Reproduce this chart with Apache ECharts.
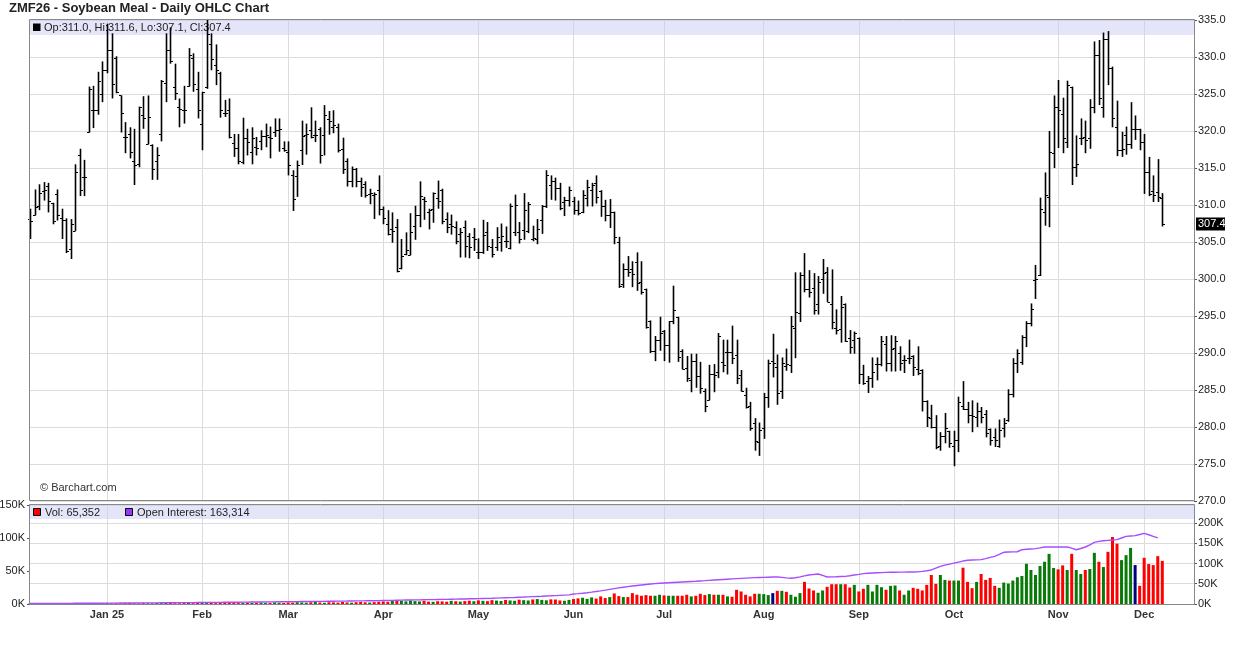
<!DOCTYPE html>
<html><head><meta charset="utf-8">
<script src="https://cdn.jsdelivr.net/npm/echarts/dist/echarts.min.js"></script>
<style>html,body{margin:0;padding:0;background:#fff}#c{width:1236px;height:645px}</style>
</head><body><div id="c"></div>
<script>
// ---------- DATA ----------
const dates = [
'2024-12-06','2024-12-09','2024-12-10','2024-12-11','2024-12-12','2024-12-13','2024-12-16','2024-12-17','2024-12-18','2024-12-19','2024-12-20','2024-12-23','2024-12-24','2024-12-26','2024-12-27','2024-12-30','2024-12-31',
'2025-01-02','2025-01-03','2025-01-06','2025-01-07','2025-01-08','2025-01-09','2025-01-10','2025-01-13','2025-01-14','2025-01-15','2025-01-16','2025-01-17','2025-01-21','2025-01-22','2025-01-23','2025-01-24','2025-01-27','2025-01-28','2025-01-29','2025-01-30','2025-01-31',
'2025-02-03','2025-02-04','2025-02-05','2025-02-06','2025-02-07','2025-02-10','2025-02-11','2025-02-12','2025-02-13','2025-02-14','2025-02-18','2025-02-19','2025-02-20','2025-02-21','2025-02-24','2025-02-25','2025-02-26','2025-02-27','2025-02-28',
'2025-03-03','2025-03-04','2025-03-05','2025-03-06','2025-03-07','2025-03-10','2025-03-11','2025-03-12','2025-03-13','2025-03-14','2025-03-17','2025-03-18','2025-03-19','2025-03-20','2025-03-21','2025-03-24','2025-03-25','2025-03-26','2025-03-27','2025-03-28','2025-03-31',
'2025-04-01','2025-04-02','2025-04-03','2025-04-04','2025-04-07','2025-04-08','2025-04-09','2025-04-10','2025-04-11','2025-04-14','2025-04-15','2025-04-16','2025-04-17','2025-04-21','2025-04-22','2025-04-23','2025-04-24','2025-04-25','2025-04-28','2025-04-29','2025-04-30',
'2025-05-01','2025-05-02','2025-05-05','2025-05-06','2025-05-07','2025-05-08','2025-05-09','2025-05-12','2025-05-13','2025-05-14','2025-05-15','2025-05-16','2025-05-19','2025-05-20','2025-05-21','2025-05-22','2025-05-23','2025-05-27','2025-05-28','2025-05-29','2025-05-30',
'2025-06-02','2025-06-03','2025-06-04','2025-06-05','2025-06-06','2025-06-09','2025-06-10','2025-06-11','2025-06-12','2025-06-13','2025-06-16','2025-06-17','2025-06-18','2025-06-20','2025-06-23','2025-06-24','2025-06-25','2025-06-26','2025-06-27','2025-06-30',
'2025-07-01','2025-07-02','2025-07-03','2025-07-07','2025-07-08','2025-07-09','2025-07-10','2025-07-11','2025-07-14','2025-07-15','2025-07-16','2025-07-17','2025-07-18','2025-07-21','2025-07-22','2025-07-23','2025-07-24','2025-07-25','2025-07-28','2025-07-29','2025-07-30','2025-07-31',
'2025-08-01','2025-08-04','2025-08-05','2025-08-06','2025-08-07','2025-08-08','2025-08-11','2025-08-12','2025-08-13','2025-08-14','2025-08-15','2025-08-18','2025-08-19','2025-08-20','2025-08-21','2025-08-22','2025-08-25','2025-08-26','2025-08-27','2025-08-28','2025-08-29',
'2025-09-02','2025-09-03','2025-09-04','2025-09-05','2025-09-08','2025-09-09','2025-09-10','2025-09-11','2025-09-12','2025-09-15','2025-09-16','2025-09-17','2025-09-18','2025-09-19','2025-09-22','2025-09-23','2025-09-24','2025-09-25','2025-09-26','2025-09-29','2025-09-30',
'2025-10-01','2025-10-02','2025-10-03','2025-10-06','2025-10-07','2025-10-08','2025-10-09','2025-10-10','2025-10-13','2025-10-14','2025-10-15','2025-10-16','2025-10-17','2025-10-20','2025-10-21','2025-10-22','2025-10-23','2025-10-24','2025-10-27','2025-10-28','2025-10-29','2025-10-30','2025-10-31',
'2025-11-03','2025-11-04','2025-11-05','2025-11-06','2025-11-07','2025-11-10','2025-11-11','2025-11-12','2025-11-13','2025-11-14','2025-11-17','2025-11-18','2025-11-19','2025-11-20','2025-11-21','2025-11-24','2025-11-25','2025-11-26','2025-11-28',
'2025-12-01','2025-12-02','2025-12-03','2025-12-04','2025-12-05'
];
const emptySlotsRight = 7;

const open = [
308.1,308.6,309.9,311.9,312.6,310.3,311.5,308.2,308.0,304.1,
306.5,316.8,313.8,319.8,322.8,322.8,325.0,328.3,331.0,329.9,
324.8,319.2,319.6,316.0,315.6,322.2,318.3,318.1,316.0,319.6,
326.5,331.0,326.0,323.2,322.9,326.1,329.9,325.7,320.9,326.0,
331.8,328.9,327.8,322.4,322.8,318.4,317.7,315.8,319.0,317.2,
317.8,318.7,319.3,319.2,319.8,320.2,317.7,317.2,314.1,313.9,
317.5,319.4,320.2,319.4,320.3,319.5,321.6,320.6,320.6,317.6,
315.9,313.2,314.9,313.3,312.9,311.5,311.4,312.0,309.5,307.5,
306.7,307.0,301.5,303.4,303.3,307.1,308.7,310.8,309.0,309.4,
311.0,312.0,308.1,307.4,307.0,306.1,307.0,305.8,305.7,303.6,
303.6,306.4,304.3,304.3,305.0,305.1,304.2,306.3,306.3,306.6,
306.5,305.4,305.4,308.0,309.8,312.7,313.2,312.3,310.4,310.7,
310.5,309.3,309.0,311.0,312.0,313.0,311.9,309.9,308.6,309.0,
305.0,299.3,301.3,301.3,302.3,299.6,298.7,294.3,290.3,291.8,
293.0,291.1,294.3,294.8,290.3,288.0,286.3,288.9,286.9,284.8,
283.6,287.2,287.5,288.8,290.1,290.1,289.7,287.0,284.3,282.8,
280.5,278.0,279.8,284.0,288.9,288.1,284.9,288.2,288.4,293.4,
295.4,300.5,298.6,298.8,296.6,300.0,300.9,296.6,293.4,293.2,
296.6,292.0,291.7,292.0,287.2,286.2,286.6,288.5,288.5,291.2,
288.7,290.7,290.0,289.0,289.3,289.6,287.9,287.7,283.5,281.2,
280.0,277.4,278.8,279.5,277.5,278.2,282.9,282.5,281.6,281.3,
282.1,281.8,279.7,278.6,277.5,279.9,281.0,284.5,288.6,288.8,
292.2,294.1,299.8,300.5,309.0,311.1,317.0,323.2,322.3,318.5,
326.0,315.1,319.0,319.2,319.0,323.3,330.3,323.3,332.5,328.5,
320.5,317.5,319.4,318.2,320.3,320.3,318.5,314.4,311.9,311.7,
311.0
];
const high = [
309.5,312.1,312.8,313.1,313.0,310.3,312.1,309.5,308.2,308.1,
315.5,317.6,316.1,326.0,326.1,328.0,329.4,334.5,333.2,330.1,
324.8,321.2,320.5,320.3,323.3,324.7,324.8,318.2,317.8,326.9,
333.2,334.0,329.1,324.4,326.1,331.2,330.5,328.0,325.3,335.0,
333.2,331.7,328.0,324.2,324.4,319.6,319.6,321.8,320.3,320.5,
319.2,320.1,321.0,320.6,321.7,321.7,318.6,318.6,314.7,316.0,
321.4,321.0,323.2,321.4,320.5,323.5,322.7,322.8,321.0,319.1,
316.3,315.2,315.0,313.7,313.2,312.2,311.7,314.0,309.8,309.3,
309.0,308.1,305.4,306.3,308.9,309.9,313.2,311.1,309.5,311.7,
313.3,312.2,309.0,308.7,307.8,306.9,307.9,306.2,306.9,305.5,
308.0,307.7,305.4,307.0,307.5,307.1,310.2,311.4,307.7,311.6,
310.4,307.2,308.1,310.0,314.7,314.0,313.7,313.0,311.1,312.5,
311.1,310.6,312.0,313.4,313.0,314.0,312.0,310.7,310.8,309.1,
305.7,302.1,303.1,302.4,303.6,302.4,298.7,294.4,292.3,294.9,
293.1,294.3,299.1,294.9,290.5,289.6,289.9,289.9,288.8,285.2,
288.4,288.5,292.7,291.8,291.8,293.7,291.8,287.7,285.3,283.4,
281.2,280.6,284.6,289.1,292.6,289.8,289.4,290.6,295.0,300.9,
300.9,303.5,301.2,300.8,300.4,302.7,301.6,301.3,295.9,297.7,
296.7,293.1,292.9,292.1,288.4,286.9,289.4,289.4,292.3,292.3,
292.4,292.3,290.9,289.7,291.8,289.7,290.9,287.8,283.6,283.0,
281.6,279.3,281.9,279.5,279.5,284.1,286.2,283.4,283.6,283.3,
282.7,282.3,279.8,279.8,281.0,281.2,285.1,289.3,290.5,292.4,
294.3,296.7,301.9,311.0,314.4,320.0,324.8,326.9,324.5,326.8,
326.0,319.4,321.7,321.4,324.3,332.1,332.3,333.3,333.5,328.7,
324.1,319.9,320.6,323.9,322.1,320.3,319.6,316.5,314.0,316.2,
311.6
];
const low = [
305.4,308.6,309.3,310.6,309.0,307.4,307.9,305.4,303.5,302.7,
306.5,311.2,311.2,319.8,320.4,322.2,323.9,327.8,324.4,325.1,
319.8,317.0,316.3,312.7,315.1,320.3,318.2,313.4,313.4,318.6,
323.9,329.1,324.2,320.5,321.0,326.0,325.3,321.7,317.4,325.7,
328.2,326.2,321.8,321.9,319.0,316.5,315.5,315.5,316.7,315.5,
316.7,317.4,317.8,316.3,319.2,317.2,317.2,314.0,309.2,311.1,
315.4,316.8,319.0,318.5,315.6,316.7,319.5,319.7,317.1,314.2,
312.5,312.4,312.4,311.1,311.0,310.1,308.1,308.6,307.4,305.9,
304.9,300.9,301.3,303.2,303.2,305.3,307.0,308.0,306.7,307.6,
309.5,307.4,306.2,306.0,304.7,302.9,302.9,302.8,303.8,302.7,
303.4,303.8,302.9,303.8,303.7,304.2,304.0,305.8,304.8,305.3,
306.2,305.1,304.7,306.1,309.6,310.7,310.6,309.3,308.5,309.8,
308.7,308.6,308.9,309.8,309.8,310.2,308.4,307.8,306.9,304.7,
298.8,298.8,300.3,298.9,298.4,297.9,293.3,290.0,288.9,290.3,
288.9,288.7,293.9,288.8,287.8,286.1,284.7,285.3,284.5,282.0,
283.6,284.7,286.6,287.4,287.1,288.5,285.8,284.8,282.5,279.5,
276.8,276.1,278.4,282.6,286.7,283.0,283.8,287.6,287.3,289.3,
294.2,298.2,297.5,295.2,295.2,298.0,296.9,293.2,292.5,291.4,
291.5,289.9,289.9,285.8,285.7,284.6,285.3,286.3,288.2,287.5,
287.5,287.5,287.6,287.3,288.5,286.9,287.0,282.1,280.0,279.8,
277.0,276.8,277.8,277.2,274.7,276.6,282.3,280.5,279.3,280.0,
280.5,278.6,277.5,277.3,277.2,278.6,280.7,284.0,287.3,288.4,
290.8,293.6,297.3,300.4,307.2,307.0,315.0,317.7,317.0,317.7,
312.7,313.8,318.1,317.0,317.6,322.4,323.5,321.8,326.2,320.5,
316.6,316.5,316.8,317.6,318.8,317.4,311.5,311.2,310.4,310.4,
307.1
];
const close = [
307.8,309.7,311.6,312.0,310.6,307.9,308.6,308.0,303.8,307.5,
314.4,312.0,313.8,325.7,322.8,326.7,328.3,330.9,326.3,325.3,
322.4,319.2,317.1,315.4,323.2,321.8,321.9,314.9,316.7,326.8,
331.0,329.5,325.2,323.0,322.9,330.3,326.3,322.9,325.3,333.1,
329.7,328.2,322.8,322.4,319.2,317.7,316.0,319.0,318.5,319.1,
317.7,319.3,319.4,319.0,320.1,320.3,317.5,315.4,310.8,315.4,
319.3,319.6,319.2,319.5,316.8,322.1,321.4,320.8,317.5,314.9,
313.3,314.9,313.2,312.4,311.3,311.6,311.5,309.5,308.3,306.1,
306.5,301.1,303.1,303.9,306.3,308.7,311.2,310.5,309.3,311.6,
310.6,307.8,307.0,307.2,305.1,306.3,304.4,304.3,305.4,303.7,
306.0,304.4,303.4,305.7,305.8,305.2,309.8,310.0,305.4,309.3,
310.2,305.6,306.7,309.9,314.0,313.3,312.3,309.6,310.7,312.0,
309.3,308.9,311.3,312.4,312.7,311.1,309.8,308.6,309.0,305.7,
299.1,301.3,300.9,300.7,299.4,298.2,293.5,290.3,291.7,292.7,
291.1,294.3,295.8,289.4,287.9,286.6,288.9,286.9,285.3,282.9,
287.2,287.0,292.3,288.4,290.1,289.3,286.6,284.8,282.7,279.9,
278.1,279.6,284.0,288.6,288.6,284.6,288.7,288.5,293.6,295.5,
300.6,298.6,298.2,295.8,299.6,300.8,296.9,294.2,293.1,296.2,
291.6,290.8,292.7,287.2,286.0,286.6,287.5,288.5,291.6,288.7,
290.5,291.6,288.7,289.1,289.3,288.1,287.3,283.5,281.3,280.0,
277.3,278.8,279.8,277.8,278.2,283.4,282.5,281.6,281.5,282.1,
281.3,279.2,278.3,278.2,279.6,280.5,284.5,288.6,290.0,292.2,
294.1,296.0,300.0,309.5,311.3,317.2,323.3,322.9,319.0,326.2,
315.1,315.5,319.0,318.8,323.3,330.3,324.5,332.5,328.5,321.7,
317.5,317.6,318.2,320.3,320.3,318.5,314.4,311.5,311.4,311.1,
307.4
];
// volume in thousands of contracts
const volumeK = [
0.8,0.6,1.0,0.7,0.9,1.2,0.8,0.6,1.1,0.9,1.5,1.0,0.8,1.6,1.2,0.9,1.1,
1.4,1.0,1.2,0.9,1.3,1.5,1.1,0.9,1.4,1.2,1.0,1.6,1.3,2.0,1.5,1.2,1.1,1.4,1.8,1.3,1.6,
1.9,2.4,1.5,1.3,2.2,1.7,1.5,2.0,1.4,1.8,2.3,1.6,1.9,2.1,1.4,1.7,2.6,1.8,1.5,
2.2,1.9,2.8,2.4,2.0,2.6,3.0,2.3,1.9,2.7,2.5,2.1,3.1,2.4,2.0,2.8,3.2,2.6,2.2,2.9,3.4,
3.8,3.2,4.5,5.5,4.8,4.0,5.2,4.4,3.9,4.7,3.6,3.3,4.2,3.9,3.5,4.8,4.1,3.7,4.4,5.0,4.2,
5.5,4.8,4.3,5.9,5.2,4.6,6.1,5.4,4.9,6.5,5.8,5.3,6.9,7.5,6.2,5.6,7.0,6.8,5.4,4.9,6.2,
7.5,8.5,9.5,7.8,10.0,8.2,11.5,9.0,10.5,16.0,12.0,
10.5,10.5,16.5,14,12.5,13.5,12.5,12.5,14,13,
12.5,12.5,12.5,12.5,14,11.5,12.5,15.5,13.5,15,
14,14,14,11.5,11,21.5,19,14,11.5,15.5,
15.5,15,13.5,16.5,20,20,18.5,14,11,16.5,
33.5,23.5,20.5,17,20.5,26,30,30,30,30,
25,29,19,23,29,19,29,25.5,21.5,27.5,
28,20.5,14,20.5,24.5,23,20.5,29,44,30.5,
44,36.5,35.5,35.5,35.5,55,33.5,24,33.5,45.5,
36.5,39.5,27.5,24.5,32.5,31,35.5,40.5,42.5,61,
51.5,44,57.5,64,76,54.5,52.5,58.5,51.5,76,
51.5,45.5,51.5,53,77.5,64,56,79,101.5,91.5,
66.5,74,85,59,27.5,70,60.5,59,72.5,65.352
];
// open interest in thousands of contracts
const openInterestK = [
1.2,1.2,1.3,1.3,1.4,1.4,1.5,1.5,1.6,1.6,1.7,1.7,1.8,1.9,1.9,2.0,2.0,
2.1,2.2,2.2,2.3,2.4,2.4,2.5,2.6,2.7,2.7,2.8,2.9,3.0,3.0,3.1,3.2,3.3,3.4,3.4,3.5,3.6,
3.7,3.8,3.9,4.0,4.1,4.2,4.3,4.4,4.5,4.6,4.7,4.8,4.9,5.0,5.1,5.2,5.3,5.4,5.5,
5.6,5.7,5.8,6.0,6.1,6.2,6.4,6.5,6.6,6.8,6.9,7.0,7.2,7.3,7.5,7.6,7.8,7.9,8.1,8.2,8.4,
8.6,8.8,9.0,9.3,9.5,9.7,9.9,10.1,10.3,10.5,10.7,10.9,11.1,11.3,11.5,11.8,12.0,12.3,12.5,12.8,13.0,
13.3,13.6,13.9,14.2,14.6,15.0,15.4,15.8,16.2,16.7,17.1,17.6,18.1,18.6,19.1,19.7,20.2,20.8,21.4,22.0,22.6,
24.7,25.5,26.5,27.8,29.2,30.8,32.5,34.3,36.2,38.0,39.8,41.5,43.0,44.5,45.8,47.0,48.2,49.3,50.4,51.4,
52.0,52.6,53.2,53.8,54.4,55.0,55.6,56.2,56.9,57.6,58.4,59.1,59.8,60.5,61.2,61.9,62.6,63.2,63.8,64.4,65.0,65.5,
65.8,66.2,66.5,66.7,65.8,64.5,63.6,64.8,66.9,69.3,71.6,73.0,74.0,70.5,66.7,66.9,67.3,67.8,68.3,69.8,71.5,
73.2,75.0,75.8,76.4,77.0,77.5,78.0,78.2,78.4,78.6,78.8,78.9,79.0,79.3,80.5,82.2,84.0,88.5,93.0,96.0,98.5,
101.0,103.5,106.0,108.0,108.5,109.0,109.5,112.0,115.0,117.7,122.5,127.6,128.2,128.6,129.0,134.0,135.0,135.8,136.6,138.5,140.7,140.9,141.0,
140.9,140.8,140.7,138.0,134.0,137.0,140.7,146.0,152.0,154.5,156.0,157.0,158.0,158.8,163.0,167.0,168.0,168.7,171.5,
174.5,171.0,167.0,163.314,null
];
const monthTickLabels = ['Jan 25','Feb','Mar','Apr','May','Jun','Jul','Aug','Sep','Oct','Nov','Dec'];
const priceAxis = {min: 270, max: 335, step: 5};
const volAxis = {min: 0, max: 150, step: 50};
const oiAxis = {min: 0, top: 244.4, step: 50};

// ---------- CHART ----------
const FONT = '"Liberation Sans", Arial, Helvetica, sans-serif';
const cats = dates.concat(Array(emptySlotsRight).fill(''));
const monthStart = cats.map((d, i) => !!d && i > 0 && d >= '2025' && d.slice(0, 7) !== cats[i - 1].slice(0, 7));
const N = dates.length;
const ohlcData = dates.map((d, i) => [i, open[i], high[i], low[i], close[i]]);
const volData = volumeK.map((v, i) => {
  const prev = i > 0 ? close[i - 1] : open[i];
  const col = close[i] > prev ? '#087a08' : (close[i] < prev ? '#ff0000' : '#000080');
  return {value: v, itemStyle: {color: col}};
});
const fmt = n => Math.round(n).toLocaleString('en-US');

const chart = echarts.init(document.getElementById('c'), null, {renderer: 'canvas'});

function renderOHLC(params, api) {
  const i = api.value(0);
  const pO = api.coord([i, api.value(1)]);
  const pH = api.coord([i, api.value(2)]);
  const pL = api.coord([i, api.value(3)]);
  const pC = api.coord([i, api.value(4)]);
  const x = Math.round(pO[0]) + 0.5;
  const yo = Math.round(pO[1]) + 0.5, yc = Math.round(pC[1]) + 0.5;
  const st = {stroke: '#000', lineWidth: 1.6};
  return {type: 'group', children: [
    {type: 'line', shape: {x1: x, y1: pH[1], x2: x, y2: pL[1]}, style: st},
    {type: 'line', shape: {x1: x - 2.5, y1: yo, x2: x, y2: yo}, style: {stroke: '#000', lineWidth: 1}},
    {type: 'line', shape: {x1: x, y1: yc, x2: x + 2.5, y2: yc}, style: {stroke: '#000', lineWidth: 1}}
  ]};
}

const gridLeft = 30, gridW = 1164;
const xBase = {
  type: 'category', data: cats, boundaryGap: false,
  axisLine: {show: false}, axisTick: {show: false},
  splitLine: {show: true, interval: (idx) => monthStart[idx], lineStyle: {color: '#dcdcdc', width: 1}}
};

const option = {
  animation: false,
  backgroundColor: '#fff',
  textStyle: {fontFamily: FONT},
  grid: [
    {left: gridLeft, width: gridW, top: 20, height: 481, containLabel: false, outerBoundsMode: 'none'},
    {left: gridLeft, width: gridW, top: 505, height: 99, containLabel: false, outerBoundsMode: 'none'}
  ],
  xAxis: [
    Object.assign({}, xBase, {gridIndex: 0, axisLabel: {show: false}}),
    Object.assign({}, xBase, {gridIndex: 1,
      axisLine: {show: true, lineStyle: {color: '#888'}},
      axisLabel: {show: true, interval: (idx) => monthStart[idx], margin: 5,
        fontFamily: FONT, fontSize: 11, fontWeight: 'bold', color: '#333',
        formatter: (v) => v ? monthTickLabels[parseInt(v.slice(5, 7), 10) - 1] : ''}})
  ],
  yAxis: [
    {gridIndex: 0, type: 'value', position: 'right', min: priceAxis.min, max: priceAxis.max, interval: priceAxis.step,
      axisLine: {show: false}, axisTick: {show: true, length: 3, lineStyle: {color: '#555'}},
      axisLabel: {margin: 4, fontFamily: FONT, fontSize: 11, color: '#222', formatter: v => v.toFixed(1)},
      splitLine: {show: true, lineStyle: {color: '#dcdcdc'}}},
    {gridIndex: 1, type: 'value', position: 'left', min: volAxis.min, max: volAxis.max, interval: volAxis.step,
      axisLine: {show: false}, axisTick: {show: true, length: 3, lineStyle: {color: '#555'}},
      axisLabel: {margin: 5, fontFamily: FONT, fontSize: 11, color: '#222', formatter: v => v + 'K'},
      splitLine: {show: false}},
    {gridIndex: 1, type: 'value', position: 'right', min: oiAxis.min, max: oiAxis.top, interval: oiAxis.step,
      axisLine: {show: false}, axisTick: {show: true, length: 3, lineStyle: {color: '#555'}},
      axisLabel: {margin: 4, fontFamily: FONT, fontSize: 11, color: '#222', showMaxLabel: false,
        formatter: v => (Math.abs(v % 50) < 1e-6 ? v + 'K' : '')},
      splitLine: {show: true, lineStyle: {color: '#dcdcdc'}}}
  ],
  series: [
    {type: 'custom', name: 'OHLC', xAxisIndex: 0, yAxisIndex: 0, renderItem: renderOHLC,
      data: ohlcData, encode: {x: 0, y: [1, 2, 3, 4]}, clip: false, z: 5},
    {type: 'bar', name: 'Vol', xAxisIndex: 1, yAxisIndex: 1, data: volData, barWidth: 3, z: 3},
    {type: 'line', name: 'Open Interest', xAxisIndex: 1, yAxisIndex: 2, data: openInterestK,
      showSymbol: false, symbol: 'none', connectNulls: false,
      lineStyle: {color: '#a64dff', width: 1.4}, z: 4}
  ]
};
chart.setOption(option);

const lastClose = close[N - 1];
const yLast = chart.convertToPixel({yAxisIndex: 0}, lastClose);
let lastOI = null; for (let i = openInterestK.length - 1; i >= 0; i--) { if (openInterestK[i] != null) { lastOI = openInterestK[i]; break; } }
const legendTxt = 'Op:' + open[N - 1].toFixed(1) + ', Hi:' + high[N - 1].toFixed(1) + ', Lo:' + low[N - 1].toFixed(1) + ', Cl:' + lastClose.toFixed(1);

chart.setOption({graphic: [
  {type: 'rect', z: 1, silent: true, shape: {x: 30, y: 20, width: 1164, height: 15}, style: {fill: 'rgba(204,204,245,0.5)'}},
  {type: 'rect', z: 1, silent: true, shape: {x: 30, y: 505, width: 1164, height: 14}, style: {fill: 'rgba(204,204,245,0.5)'}},
  {type: 'rect', z: 10, silent: true, shape: {x: 29.5, y: 19.5, width: 1165, height: 481}, style: {fill: null, stroke: '#888', lineWidth: 1}},
  {type: 'rect', z: 10, silent: true, shape: {x: 29.5, y: 504.5, width: 1165, height: 100}, style: {fill: null, stroke: '#888', lineWidth: 1}},
  {type: 'text', z: 10, x: 9, y: 8, style: {text: 'ZMF26 - Soybean Meal - Daily OHLC Chart', font: 'bold 13px ' + FONT, fill: '#222', textVerticalAlign: 'middle'}},
  {type: 'rect', z: 1, shape: {x: 33, y: 23.5, width: 7.5, height: 7.5}, style: {fill: '#000'}},
  {type: 'text', z: 1, x: 44, y: 28, style: {text: legendTxt, font: '11px ' + FONT, fill: '#222', textVerticalAlign: 'middle'}},
  {type: 'rect', z: 2, shape: {x: 33.5, y: 508.5, width: 7, height: 7}, style: {fill: '#ff0000', stroke: '#000', lineWidth: 1}},
  {type: 'text', z: 2, x: 45, y: 512.5, style: {text: 'Vol: ' + fmt(volumeK[N - 1] * 1000), font: '11px ' + FONT, fill: '#222', textVerticalAlign: 'middle'}},
  {type: 'rect', z: 2, shape: {x: 125.5, y: 508.5, width: 7, height: 7}, style: {fill: '#9933ff', stroke: '#000', lineWidth: 1}},
  {type: 'text', z: 2, x: 137, y: 512.5, style: {text: 'Open Interest: ' + fmt(lastOI * 1000), font: '11px ' + FONT, fill: '#222', textVerticalAlign: 'middle'}},
  {type: 'text', z: 2, x: 40, y: 488, style: {text: '\u00a9 Barchart.com', font: '11px ' + FONT, fill: '#333', textVerticalAlign: 'middle'}},
  {type: 'rect', z: 20, shape: {x: 1196, y: Math.round(yLast) - 6.5, width: 29, height: 13}, style: {fill: '#000'}},
  {type: 'text', z: 21, x: 1198, y: Math.round(yLast), style: {text: lastClose.toFixed(1), font: '11px ' + FONT, fill: '#fff', textVerticalAlign: 'middle'}}
]});
</script>
</body></html>
